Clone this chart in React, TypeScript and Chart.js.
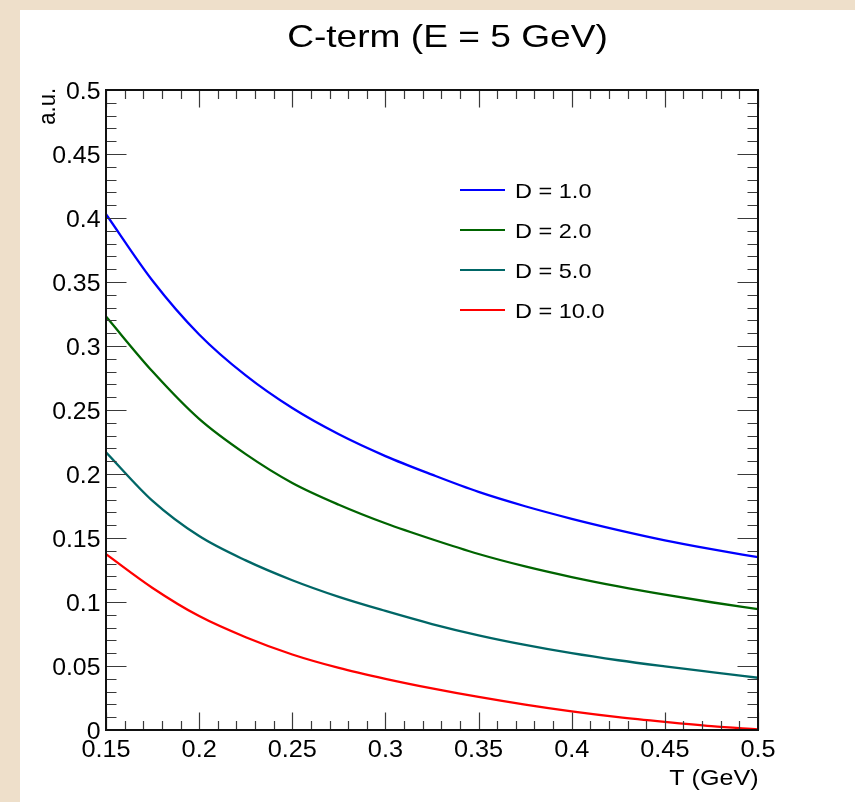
import React, { useEffect, useRef } from "react";
import { Chart, registerables } from "chart.js";

Chart.register(...registerables);

// ---- data ----
const temperatures = [0.15, 0.175, 0.2, 0.225, 0.25, 0.275, 0.3, 0.325, 0.35, 0.375, 0.4, 0.425, 0.45, 0.475, 0.5];
const seriesD1 = [0.403, 0.351, 0.309, 0.277, 0.2515, 0.231, 0.214, 0.1995, 0.186, 0.1748, 0.165, 0.1562, 0.1482, 0.1413, 0.135];
const seriesD2 = [0.323, 0.28, 0.243, 0.2155, 0.193, 0.176, 0.1615, 0.149, 0.1375, 0.1278, 0.1195, 0.1122, 0.1057, 0.0998, 0.0945];
const seriesD5 = [0.217, 0.179, 0.1515, 0.1325, 0.117, 0.104, 0.093, 0.0828, 0.074, 0.0665, 0.06, 0.0545, 0.0497, 0.0452, 0.0408];
const seriesD10 = [0.1374, 0.111, 0.089, 0.0725, 0.059, 0.0485, 0.04, 0.0325, 0.0258, 0.0198, 0.0145, 0.01, 0.0063, 0.003, 0.0005];

const seriesLabels = ["D = 1.0", "D = 2.0", "D = 5.0", "D = 10.0"];
const seriesColors = ["#0000ff", "#006400", "#006666", "#ff0000"];

const xTickValues = [0.15, 0.2, 0.25, 0.3, 0.35, 0.4, 0.45, 0.5];
const xTickLabels = ["0.15", "0.2", "0.25", "0.3", "0.35", "0.4", "0.45", "0.5"];
const yTickValues = [0, 0.05, 0.1, 0.15, 0.2, 0.25, 0.3, 0.35, 0.4, 0.45, 0.5];
const yTickLabels = ["0", "0.05", "0.1", "0.15", "0.2", "0.25", "0.3", "0.35", "0.4", "0.45", "0.5"];
const minorStep = 0.01;

const titleText = "C-term (E = 5 GeV)";
const xAxisTitle = "T (GeV)";
const yAxisTitle = "a.u.";

const FONT = '"Liberation Sans", Arial, Helvetica, sans-serif';

function stretchedText(
  ctx: CanvasRenderingContext2D,
  text: string,
  x: number,
  y: number,
  align: CanvasTextAlign,
  size: number,
  sx: number
) {
  ctx.save();
  ctx.translate(x, y);
  ctx.scale(sx, 1);
  ctx.font = `${size}px ${FONT}`;
  ctx.textAlign = align;
  ctx.textBaseline = "alphabetic";
  ctx.fillStyle = "#000";
  ctx.fillText(text, 0, 0);
  ctx.restore();
}

const rootStylePlugin = {
  id: "rootStyle",
  afterDraw(chart: any) {
    const ctx: CanvasRenderingContext2D = chart.ctx;
    const xs = chart.scales.x;
    const ys = chart.scales.y;
    const { left, right, top, bottom } = chart.chartArea;

    ctx.save();
    // ticks
    ctx.strokeStyle = "#3a3a3a";
    ctx.lineWidth = 1.2;
    const xMaj = 17.5, xMin = 9, yMaj = 20.5, yMin = 10.5;
    const nX = Math.round((xs.max - xs.min) / minorStep);
    for (let i = 0; i <= nX; i++) {
      const v = xs.min + i * minorStep;
      const isMajor = xTickValues.some((t) => Math.abs(t - v) < 1e-6);
      const px = Math.round(xs.getPixelForValue(v)) + 0.5;
      const len = isMajor ? xMaj : xMin;
      ctx.beginPath();
      ctx.moveTo(px, bottom);
      ctx.lineTo(px, bottom - len);
      ctx.moveTo(px, top);
      ctx.lineTo(px, top + len);
      ctx.stroke();
    }
    const nY = Math.round((ys.max - ys.min) / minorStep);
    for (let i = 0; i <= nY; i++) {
      const v = ys.min + i * minorStep;
      const isMajor = yTickValues.some((t) => Math.abs(t - v) < 1e-6);
      const py = Math.round(ys.getPixelForValue(v)) + 0.5;
      const len = isMajor ? yMaj : yMin;
      ctx.beginPath();
      ctx.moveTo(left, py);
      ctx.lineTo(left + len, py);
      ctx.moveTo(right, py);
      ctx.lineTo(right - len, py);
      ctx.stroke();
    }
    // frame
    ctx.strokeStyle = "#111";
    ctx.lineWidth = 2;
    ctx.strokeRect(left, top, right - left, bottom - top);

    // tick labels
    xTickValues.forEach((v, i) => {
      stretchedText(ctx, xTickLabels[i], xs.getPixelForValue(v), bottom + 26.5, "center", 23, 1.1);
    });
    yTickValues.forEach((v, i) => {
      stretchedText(ctx, yTickLabels[i], left - 5.5, ys.getPixelForValue(v) + 8.5, "right", 23, 1.08);
    });

    // title
    stretchedText(ctx, titleText, 427.5, 36.5, "center", 32, 1.16);
    // x axis title
    stretchedText(ctx, xAxisTitle, right + 0.5, 775, "right", 22, 1.14);
    // y axis title (rotated)
    ctx.save();
    ctx.translate(35, 78);
    ctx.rotate(-Math.PI / 2);
    ctx.scale(1, 1.12);
    ctx.font = `22px ${FONT}`;
    ctx.textAlign = "right";
    ctx.textBaseline = "alphabetic";
    ctx.fillStyle = "#000";
    ctx.fillText(yAxisTitle, 0, 0);
    ctx.restore();

    // legend
    seriesLabels.forEach((lab, i) => {
      const ly = 180 + i * 40;
      ctx.strokeStyle = seriesColors[i];
      ctx.lineWidth = 2;
      ctx.beginPath();
      ctx.moveTo(440, ly);
      ctx.lineTo(485, ly);
      ctx.stroke();
      stretchedText(ctx, lab, 495, ly + 8.3, "left", 21, 1.12);
    });
    ctx.restore();
  },
};

export default function App() {
  const canvasRef = useRef<HTMLCanvasElement | null>(null);

  useEffect(() => {
    if (!canvasRef.current) return;
    const all = [seriesD1, seriesD2, seriesD5, seriesD10];
    const chart = new Chart(canvasRef.current, {
      type: "line",
      data: {
        datasets: all.map((arr, i) => ({
          label: seriesLabels[i],
          data: temperatures.map((t, j) => ({ x: t, y: arr[j] })),
          borderColor: seriesColors[i],
          backgroundColor: seriesColors[i],
          borderWidth: 2.3,
          pointRadius: 0,
          fill: false,
          cubicInterpolationMode: "monotone" as const,
        })),
      },
      plugins: [rootStylePlugin],
      options: {
        animation: false,
        responsive: false,
        maintainAspectRatio: false,
        devicePixelRatio: 1,
        layout: { padding: { left: 86, top: 80, right: 97, bottom: 72 } },
        plugins: {
          legend: { display: false },
          title: { display: false },
          tooltip: { enabled: false },
        },
        events: [],
        scales: {
          x: { type: "linear", min: 0.15, max: 0.5, display: false },
          y: { type: "linear", min: 0, max: 0.5, display: false },
        },
      },
    });
    return () => chart.destroy();
  }, []);

  return (
    <div
      style={{
        position: "fixed",
        left: 0,
        top: 0,
        width: 855,
        height: 802,
        background: "#eedfca",
      }}
    >
      <div
        style={{
          position: "absolute",
          left: 20,
          top: 10,
          width: 835,
          height: 792,
          background: "#ffffff",
        }}
      >
        <canvas ref={canvasRef} width={835} height={792} style={{ display: "block" }} />
      </div>
    </div>
  );
}
